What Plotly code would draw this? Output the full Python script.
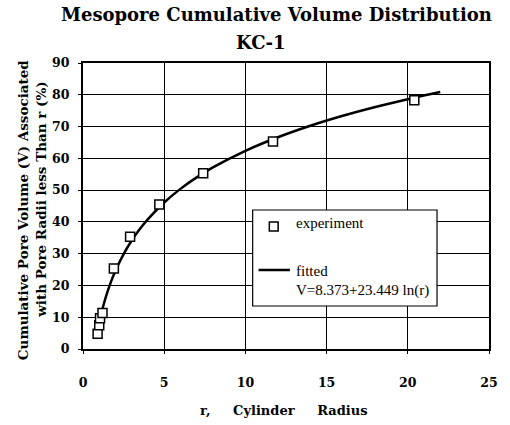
import plotly.graph_objects as go

# experimental data (r, V%)
exp_r = [0.9, 1.0, 1.05, 1.2, 1.9, 2.9, 4.7, 7.4, 11.7, 20.4]
exp_v = [4.8, 7.5, 9.7, 11.3, 25.3, 35.3, 45.5, 55.3, 65.3, 78.3]

# fitted curve V = 8.373 + 23.449 ln(r)
fit_r = [0.9, 0.95, 1.0, 1.1, 1.25, 1.5, 1.75, 2, 2.5, 3, 3.5, 4, 5, 6, 7, 8, 10, 12, 14, 16, 18, 20, 22]
fit_v = [5.90, 7.17, 8.37, 10.61, 13.61, 17.88, 21.50, 24.63, 29.86, 34.13, 37.75, 40.88,
         46.11, 50.39, 54.00, 57.13, 62.37, 66.64, 70.26, 73.39, 76.15, 78.62, 80.86]

x_ticks = [0, 5, 10, 15, 20, 25]
y_ticks = [0, 10, 20, 30, 40, 50, 60, 70, 80, 90]

title_lines = ["Mesopore Cumulative Volume Distribution", "KC-1"]
y_title_lines = ["Cumulative Pore Volume (V) Associated", "with Pore Radii less Than r (%)"]
x_title = "r,     Cylinder     Radius"
legend_labels = ["experiment", "fitted", "V=8.373+23.449 ln(r)"]

SERIF = "DejaVu Serif"
TIMES = "Liberation Serif"

W, H = 510, 425
L, R, T, B = 83, 13, 63, 76
PW, PH = W - L - R, H - T - B


def px(x):
    return (x - L) / PW


def py(y):
    return (H - B - y) / PH


fig = go.Figure()
fig.add_trace(go.Scatter(
    x=fit_r, y=fit_v, mode="lines", showlegend=False, hoverinfo="skip",
    line=dict(color="black", width=2.5, shape="spline")))
fig.add_trace(go.Scatter(
    x=exp_r, y=exp_v, mode="markers", showlegend=False,
    marker=dict(symbol="square", size=9, color="white", line=dict(color="black", width=1.5))))

fig.update_layout(
    width=W, height=H,
    margin=dict(l=L, r=R, t=T, b=B),
    paper_bgcolor="white", plot_bgcolor="white",
    showlegend=False,
    xaxis=dict(range=[0, 25], tickvals=x_ticks, showgrid=True, gridcolor="black", gridwidth=1,
               showline=True, linecolor="black", linewidth=2, mirror=True,
               ticks="outside", ticklen=3, tickcolor="black", zeroline=False,
               ticklabelstandoff=18,
               tickfont=dict(family=SERIF, size=12.5, color="black", weight="bold")),
    yaxis=dict(range=[0, 90], tickvals=y_ticks, showgrid=True, gridcolor="black", gridwidth=1,
               showline=True, linecolor="black", linewidth=2, mirror=True,
               ticks="outside", ticklen=3, tickcolor="black", zeroline=False,
               ticklabelstandoff=6,
               tickfont=dict(family=SERIF, size=12.5, color="black", weight="bold")),
)

# titles
fig.add_annotation(text="<b>%s</b>" % title_lines[0], xref="paper", yref="paper",
                   x=px(280), y=py(15), xanchor="center", yanchor="middle", showarrow=False,
                   font=dict(family=SERIF, size=18, color="black"))
fig.add_annotation(text="<b>%s</b>" % title_lines[1], xref="paper", yref="paper",
                   x=px(264), y=py(42), xanchor="center", yanchor="middle", showarrow=False,
                   font=dict(family=SERIF, size=18, color="black"))
fig.add_annotation(text="<b>%s</b>" % y_title_lines[0], xref="paper", yref="paper",
                   x=px(22), y=py(210), xanchor="center", yanchor="middle", textangle=-90,
                   showarrow=False, font=dict(family=SERIF, size=13.5, color="black"))
fig.add_annotation(text="<b>%s</b>" % y_title_lines[1], xref="paper", yref="paper",
                   x=px(40), y=py(199), xanchor="center", yanchor="middle", textangle=-90,
                   showarrow=False, font=dict(family=SERIF, size=13.5, color="black"))
fig.add_annotation(text="<b>%s</b>" % x_title, xref="paper", yref="paper",
                   x=px(287), y=py(410), xanchor="center", yanchor="middle",
                   showarrow=False, font=dict(family=SERIF, size=13, color="black"))

# legend box (drawn manually)
fig.add_shape(type="rect", xref="paper", yref="paper",
              x0=px(256), x1=px(444), y0=py(306), y1=py(210),
              fillcolor="white", line=dict(color="black", width=1.2), layer="above")
fig.add_shape(type="rect", xref="paper", yref="paper",
              x0=px(273), x1=px(282), y0=py(231), y1=py(222),
              fillcolor="white", line=dict(color="black", width=1.5), layer="above")
fig.add_shape(type="line", xref="paper", yref="paper",
              x0=px(262), x1=px(294), y0=py(270), y1=py(270),
              line=dict(color="black", width=2.5), layer="above")
for lbl, yy in zip(legend_labels, [223, 271, 290]):
    fig.add_annotation(text=lbl, xref="paper", yref="paper", x=px(298), y=py(yy),
                       xanchor="left", yanchor="middle", showarrow=False,
                       font=dict(family=TIMES, size=15, color="black"))

fig.write_html("out.html", config={"displayModeBar": False},
               post_script="document.body.style.margin='0';document.body.style.overflow='hidden';")
